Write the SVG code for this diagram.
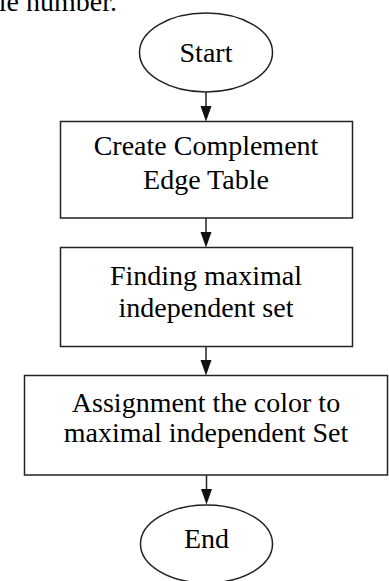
<svg xmlns="http://www.w3.org/2000/svg" width="389" height="581" viewBox="0 0 389 581">
  <style>
    .shape { fill: #fff; stroke: #222; stroke-width: 1.5; }
    .label { font-family: "Liberation Serif", "Times New Roman", serif; font-size: 28px; fill: #000; text-anchor: middle; }
    .edge { fill: none; stroke: #222; stroke-width: 1.5; }
    .head { fill: #111; }
  </style>
  <rect width="389" height="581" fill="#fff"/>

  <!-- tail of the preceding paragraph -->
  <text class="label" x="117" y="11" style="text-anchor:end">ble number.</text>

  <!-- connectors: shafts and filled arrowheads -->
  <g id="connectors">
    <path class="edge" d="M206,92 V108"/>
    <path class="edge" d="M206,218 V234"/>
    <path class="edge" d="M206,347 V362"/>
    <path class="edge" d="M206.5,475 V491"/>
    <polygon class="head" points="200.5,106 211.5,106 206,121.5"/>
    <polygon class="head" points="200.5,232 211.5,232 206,247.5"/>
    <polygon class="head" points="200.5,360 211.5,360 206,375.5"/>
    <polygon class="head" points="201,489 212,489 206.5,504.5"/>
  </g>

  <g id="start">
    <ellipse class="shape" cx="206" cy="52.5" rx="66.5" ry="39.5"/>
    <text class="label" x="206" y="62">Start</text>
  </g>

  <g id="complement-edge-table">
    <rect class="shape" x="60.5" y="121.5" width="292" height="96.5"/>
    <text class="label" x="206" y="155">Create Complement</text>
    <text class="label" x="206" y="189">Edge Table</text>
  </g>

  <g id="maximal-independent-set">
    <rect class="shape" x="60.5" y="247.5" width="292" height="99"/>
    <text class="label" x="206" y="285">Finding maximal</text>
    <text class="label" x="206" y="317">independent set</text>
  </g>

  <g id="assign-color">
    <rect class="shape" x="24.5" y="375.5" width="363" height="99.5"/>
    <text class="label" x="206" y="412">Assignment the color to</text>
    <text class="label" x="206" y="442">maximal independent Set</text>
  </g>

  <g id="end">
    <ellipse class="shape" cx="206.5" cy="544" rx="66" ry="39"/>
    <text class="label" x="206.5" y="548">End</text>
  </g>
</svg>
